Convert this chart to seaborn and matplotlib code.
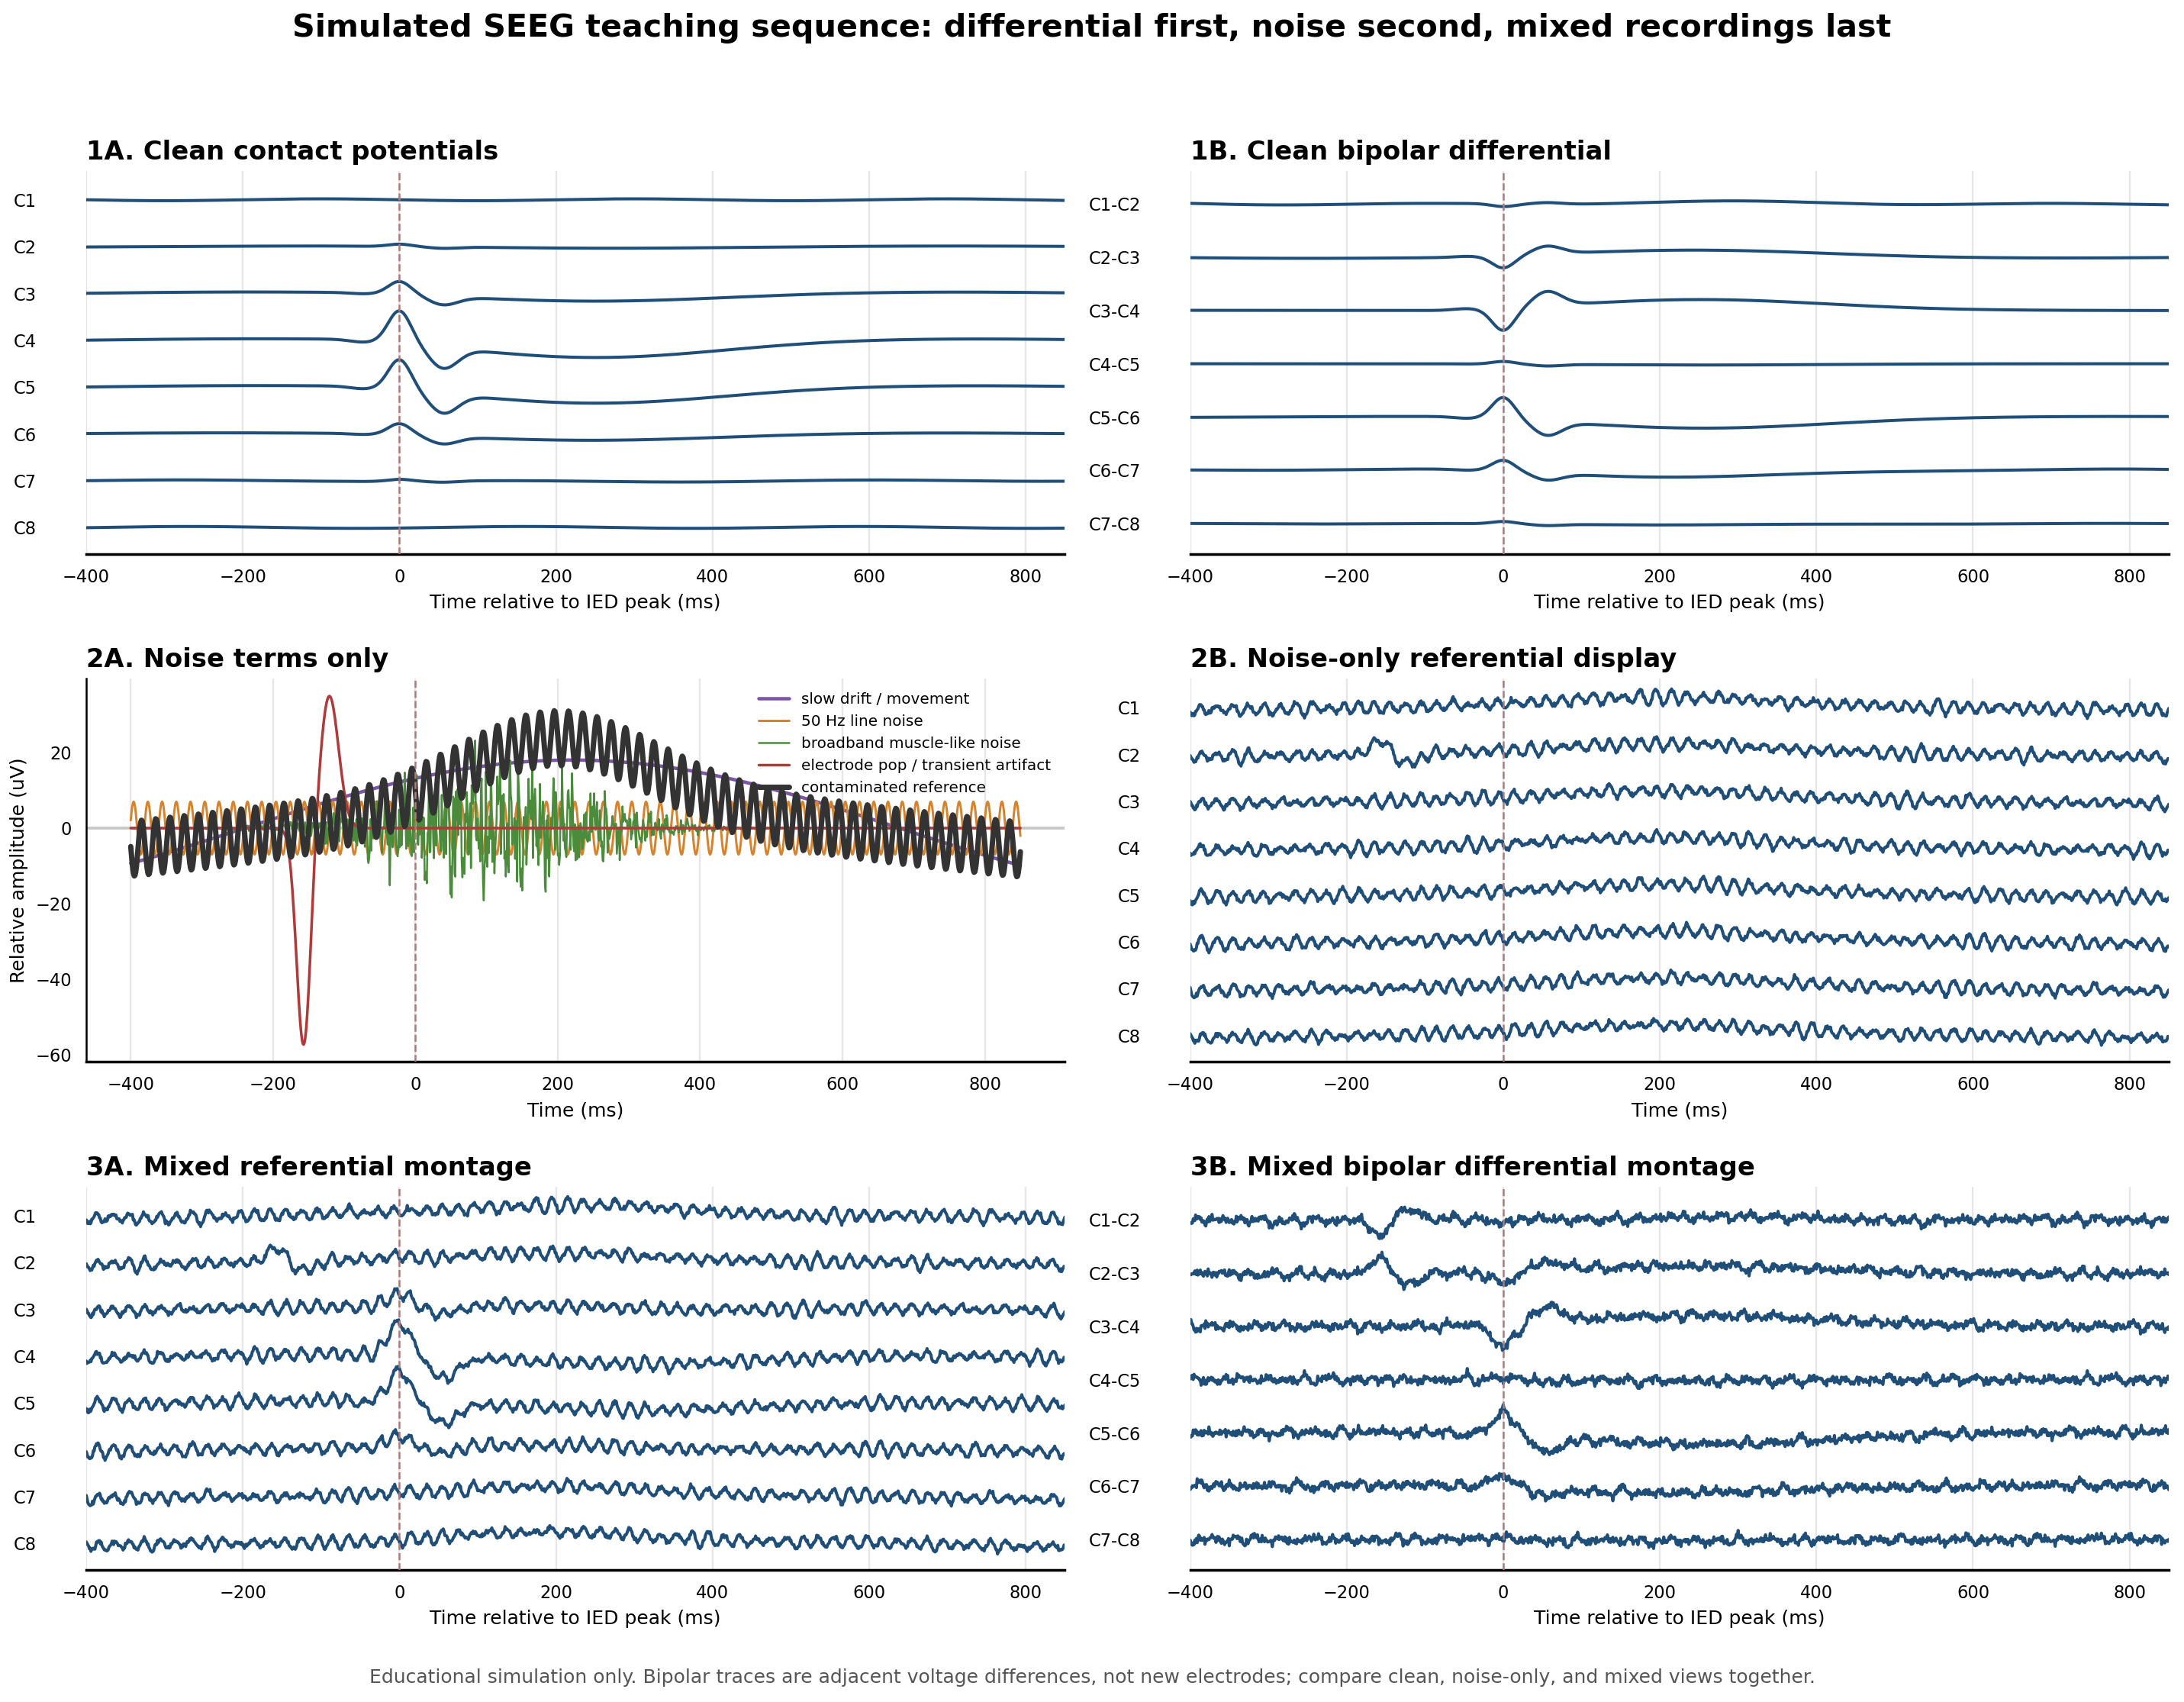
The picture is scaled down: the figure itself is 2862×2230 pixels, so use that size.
import numpy as np
import seaborn as sns
import matplotlib
matplotlib.use("Agg")
import matplotlib.pyplot as plt

# ---- time base (ms) ----
T_START, T_END, DT = -400, 850, 1.0

CONTACTS = ["C1", "C2", "C3", "C4", "C5", "C6", "C7", "C8"]
BIPOLAR = ["C1-C2", "C2-C3", "C3-C4", "C4-C5", "C5-C6", "C6-C7", "C7-C8"]

# ---- IED template (amplitudes in trace spacings) ----
IED_CENTRES = [-45, 0, 55]
IED_WIDTHS = [18, 14, 19]
IED_AMPS = [-0.06, 0.63, -0.47]
SLOW_CENTRE, SLOW_WIDTH, SLOW_AMP = 250, 160, -0.34
SLOW_ONSET, SLOW_ONSET_WIDTH = 40, 12

# how strongly each contact sees the discharge
CONTACT_GAINS = [0.0, 0.07, 0.40, 1.00, 0.93, 0.35, 0.06, 0.0]

# slow background wobble of each clean contact
BG_AMPS = [0.02, 0.012, 0.03, 0.03, 0.03, 0.02, 0.015, 0.02]
BG_PERIODS = [400, 800, 880, 880, 880, 880, 440, 430]
BG_PEAKS = [-100, 700, 690, 700, 700, 660, 600, 160]

# ---- noise terms (uV) ----
DRIFT_AMP, DRIFT_PEAK, DRIFT_PERIOD = 18.0, 220, 1840
LINE_AMP, LINE_FREQ, LINE_PHASE = 7.0, 50, 0.3
MUSCLE_FREQS = [23, 37, 52, 68, 81, 97, 113, 131, 149, 173, 197, 229, 263, 307, 353, 401, 449]
MUSCLE_CENTRE, MUSCLE_WIDTH, MUSCLE_AMP = 100, 130, 9.5
POP_CENTRES = [-157, -121]
POP_WIDTHS = [10, 13]
POP_AMPS = [-58.0, 35.0]

# contaminated reference
REF_DRIFT_GAIN, REF_OFFSET = 0.35, -2.2
REF_BUMP_CENTRE, REF_BUMP_WIDTH, REF_BUMP_AMP = 200, 135, 19.7
REF_LINE_AMP, REF_LINE_PHASE = 7.3, 3.06

# display scaling of noise in the montages (spacings per uV)
REF_SCALE = 0.0095
LINE_PICKUP = -0.004
POP_SCALE = -0.0058
POP_CONTACT = 1  # C2

# per-contact local noise
NOISE_FREQS = [6, 11, 17, 24, 29, 34, 39, 44, 48, 53, 58, 63, 71, 86, 109, 137, 163, 199, 241, 293, 347, 419, 487]
NOISE_AMPS = [0.006, 0.006, 0.007, 0.009, 0.012, 0.014, 0.016, 0.017, 0.017, 0.016, 0.014, 0.012, 0.010,
              0.008, 0.008, 0.009, 0.010, 0.010, 0.011, 0.011, 0.011, 0.011, 0.011]

TRACE_COLOR = "#1f4e79"
EVENT_COLOR = "#b07a7a"
NOISE_COLORS = ["#7d55a5", "#d6832c", "#4b8c3c", "#b03a3a", "#333333"]


def bump(t, centre, width, amp):
    return amp * np.exp(-0.5 * ((t - centre) / width) ** 2)


def quasi_phase(k, seed):
    return 2 * np.pi * ((0.618034 * (k + 1) ** 2 * (seed + 1) + 0.414214 * (k + 1) * (seed + 2)) % 1.0)


t = np.arange(T_START, T_END + DT / 2, DT)

# clean contact potentials
ied = sum(bump(t, c, w, a) for c, w, a in zip(IED_CENTRES, IED_WIDTHS, IED_AMPS))
onset = 1 / (1 + np.exp(-(t - SLOW_ONSET) / SLOW_ONSET_WIDTH))
ied = ied + onset * bump(t, SLOW_CENTRE, SLOW_WIDTH, SLOW_AMP)
clean = [g * ied + a * np.cos(2 * np.pi * (t - p) / P)
         for g, a, P, p in zip(CONTACT_GAINS, BG_AMPS, BG_PERIODS, BG_PEAKS)]
clean_bip = [clean[i] - clean[i + 1] for i in range(len(BIPOLAR))]

# noise terms
drift = DRIFT_AMP * np.cos(2 * np.pi * (t - DRIFT_PEAK) / DRIFT_PERIOD)
line = LINE_AMP * np.sin(2 * np.pi * LINE_FREQ * t / 1000 + LINE_PHASE)
carrier = sum(np.sin(2 * np.pi * f * t / 1000 + quasi_phase(k, 0)) for k, f in enumerate(MUSCLE_FREQS))
carrier = carrier / np.sqrt(len(MUSCLE_FREQS) / 2)
muscle = bump(t, MUSCLE_CENTRE, MUSCLE_WIDTH, MUSCLE_AMP) * carrier
pop = sum(bump(t, c, w, a) for c, w, a in zip(POP_CENTRES, POP_WIDTHS, POP_AMPS))
reference = (REF_DRIFT_GAIN * drift + REF_OFFSET
             + bump(t, REF_BUMP_CENTRE, REF_BUMP_WIDTH, REF_BUMP_AMP)
             + REF_LINE_AMP * np.sin(2 * np.pi * LINE_FREQ * t / 1000 + REF_LINE_PHASE))

common = REF_SCALE * reference + LINE_PICKUP * line
noise = []
for i in range(len(CONTACTS)):
    own = sum(a * np.sin(2 * np.pi * f * t / 1000 + quasi_phase(k, i + 3))
              for k, (f, a) in enumerate(zip(NOISE_FREQS, NOISE_AMPS)))
    tr = common + own
    if i == POP_CONTACT:
        tr = tr + POP_SCALE * pop
    noise.append(tr)

mixed = [c + n for c, n in zip(clean, noise)]
mixed_bip = [mixed[i] - mixed[i + 1] for i in range(len(BIPOLAR))]

# ---- figure ----
sns.set_style("white")
plt.rcParams["font.family"] = ["DejaVu Sans"]
plt.rcParams.update({"text.color": "black", "axes.labelcolor": "black", "axes.edgecolor": "black",
                     "xtick.color": "black", "ytick.color": "black"})
fig, axes = plt.subplots(3, 2, figsize=(15.9, 12.39), dpi=180)
fig.subplots_adjust(left=0.0395, right=0.993, top=0.8996, bottom=0.0776, wspace=0.128, hspace=0.325)


def draw_traces(ax, traces, labels, title, xlabel):
    n = len(labels)
    for i, y in enumerate(traces):
        sns.lineplot(x=t, y=y - i, ax=ax, color=TRACE_COLOR, lw=1.6, errorbar=None)
    ax.set_yticks(-np.arange(n))
    ax.set_yticklabels(labels)
    ax.set_ylim(-(n - 1) - 0.57, 0.62)
    ax.set_xlim(T_START, T_END)
    ax.axvline(0, color=EVENT_COLOR, ls="--", lw=1.0, zorder=3)
    ax.grid(axis="x", color="#e6e6e6", lw=0.9)
    ax.set_axisbelow(True)
    sns.despine(ax=ax, left=True)
    ax.tick_params(axis="y", length=0, pad=26, labelsize=9)
    ax.tick_params(axis="x", labelsize=9, length=4, width=1)
    ax.spines["bottom"].set_linewidth(1.4)
    ax.set_title(title, loc="left", fontweight="bold", fontsize=13.5)
    ax.set_xlabel(xlabel, fontsize=10)
    ax.set_ylabel("")


draw_traces(axes[0, 0], clean, CONTACTS, "1A. Clean contact potentials", "Time relative to IED peak (ms)")
draw_traces(axes[0, 1], clean_bip, BIPOLAR, "1B. Clean bipolar differential", "Time relative to IED peak (ms)")
draw_traces(axes[1, 1], noise, CONTACTS, "2B. Noise-only referential display", "Time (ms)")
draw_traces(axes[2, 0], mixed, CONTACTS, "3A. Mixed referential montage", "Time relative to IED peak (ms)")
draw_traces(axes[2, 1], mixed_bip, BIPOLAR, "3B. Mixed bipolar differential montage", "Time relative to IED peak (ms)")

# 2A: the noise terms themselves
ax = axes[1, 0]
ax.axhline(0, color="#c8c8c8", lw=1.5, zorder=1)
series = [drift, line, muscle, pop, reference]
names = ["slow drift / movement", "50 Hz line noise", "broadband muscle-like noise",
         "electrode pop / transient artifact", "contaminated reference"]
widths = [1.8, 1.2, 1.0, 1.4, 2.8]
for y, name, col, lw in zip(series, names, NOISE_COLORS, widths):
    sns.lineplot(x=t, y=y, ax=ax, color=col, lw=lw, label=name, errorbar=None)
ax.axvline(0, color=EVENT_COLOR, ls="--", lw=1.0, zorder=3)
ax.grid(axis="x", color="#e6e6e6", lw=0.9)
ax.set_axisbelow(True)
sns.despine(ax=ax)
ax.spines["bottom"].set_linewidth(1.4)
ax.spines["left"].set_linewidth(1.0)
ax.tick_params(labelsize=9, length=4)
ax.set_title("2A. Noise terms only", loc="left", fontweight="bold", fontsize=13.5)
ax.set_xlabel("Time (ms)", fontsize=10)
ax.set_ylabel("Relative amplitude (uV)", fontsize=10)
ax.legend(loc="upper right", frameon=False, fontsize=8)

fig.suptitle("Simulated SEEG teaching sequence: differential first, noise second, mixed recordings last",
             fontsize=16.5, fontweight="bold", y=0.9834, va="center")
fig.text(0.5, 0.0143, "Educational simulation only. Bipolar traces are adjacent voltage differences, "
         "not new electrodes; compare clean, noise-only, and mixed views together.",
         ha="center", va="center", fontsize=10, color="#555555")

fig.savefig("out.png", dpi=180)
